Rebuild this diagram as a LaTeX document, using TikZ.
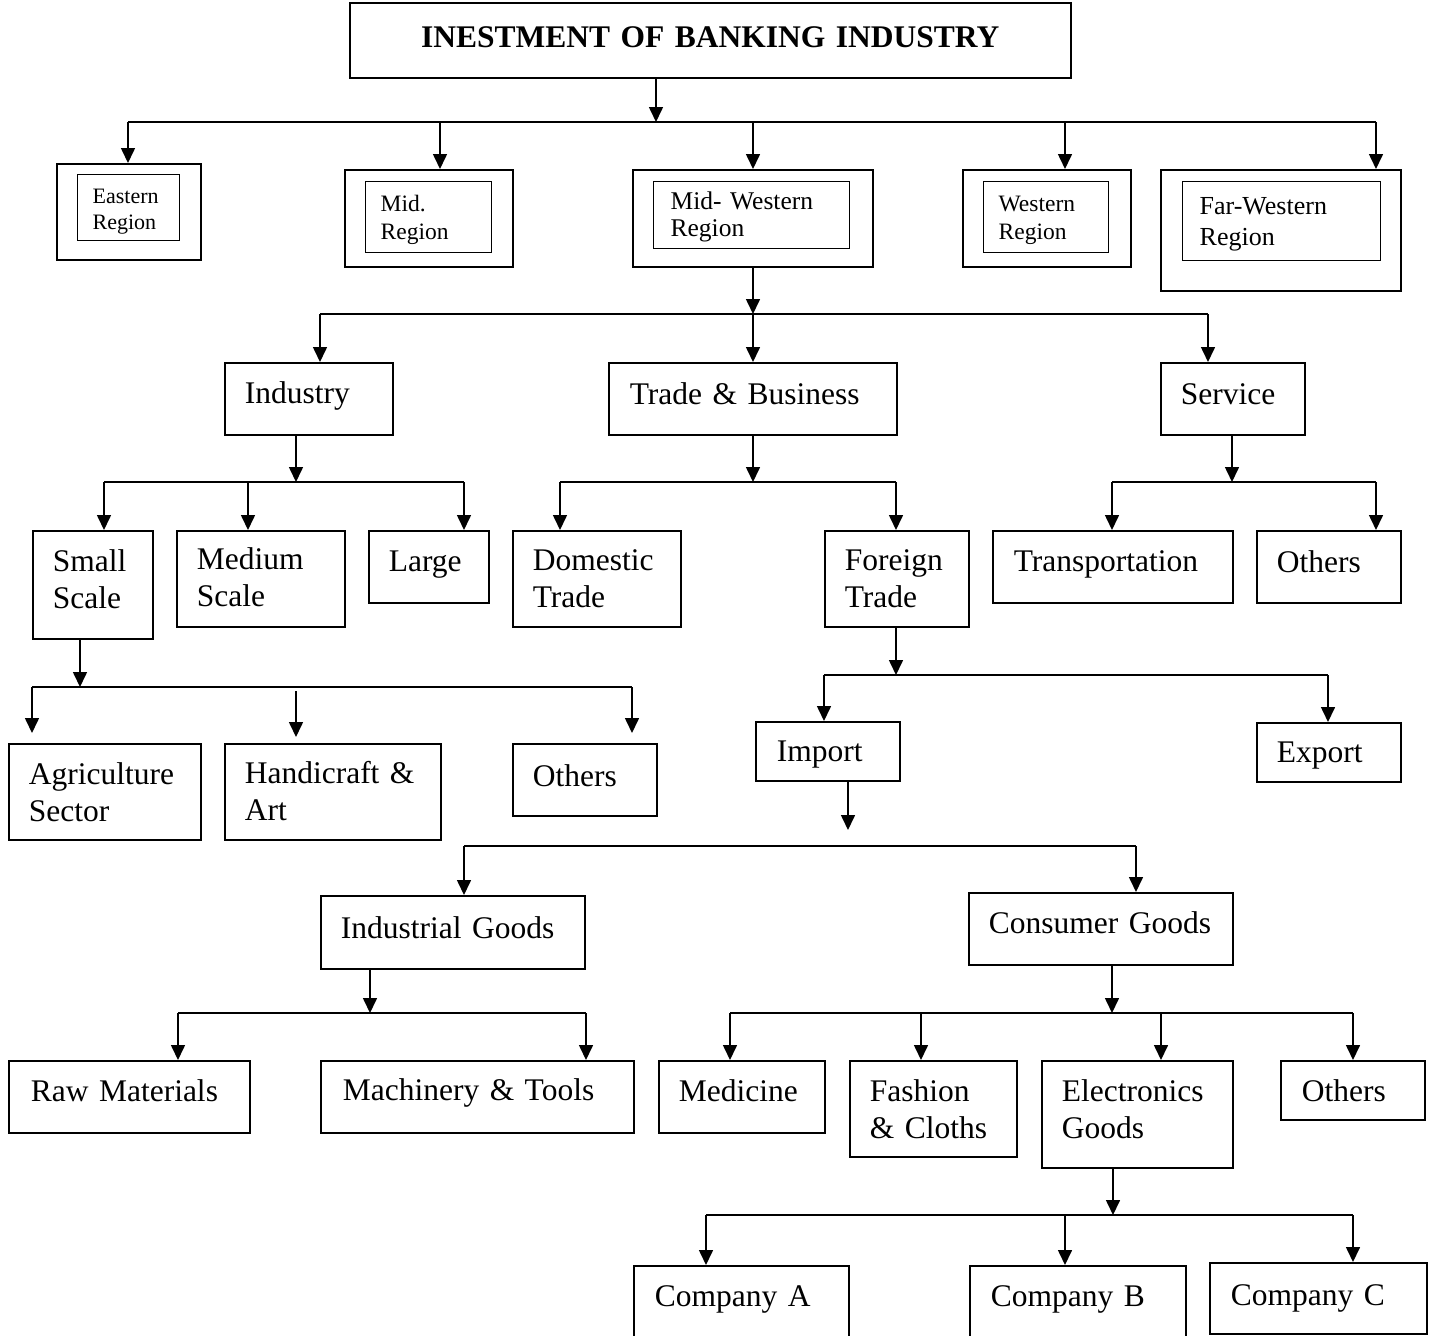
\documentclass[tikz,border=0pt]{standalone}
\usepackage{fontspec}
\setmainfont{Liberation Serif}
\usetikzlibrary{arrows.meta}
\newcommand\mkbox[8][]{%
  \pgfmathsetmacro\bw{#5-#3}\pgfmathsetmacro\bh{#6-#4}\pgfmathsetmacro\tw{#5-#3-2*#7}%
  \node[box,minimum width=\bw pt,minimum height=\bh pt,text width=\tw pt,inner xsep=#7 pt,#1] (#2) at (#3,#4) {#8};}
% raise the text inside a box by half the given amount
\newcommand\up[1]{\par\kern #1pt\relax}
\tikzset{
  box/.style={draw,line width=1.6pt,anchor=north west,inner ysep=0pt,align=left,
    font=\fontsize{31.5}{37}\selectfont},
  outerbox/.style={line width=2pt},
  innerbox/.style={line width=1.3pt},
  ln/.style={line width=1.6pt},
  arr/.style={line width=1.6pt,-{Triangle[length=15pt,width=14pt]}},
}
\begin{document}
\begin{tikzpicture}[x=1pt,y=-1pt]
\clip (0,0) rectangle (1433,1336);
\fill[white] (0,0) rectangle (1433,1336);

% title
\mkbox[align=center,font=\fontsize{31.5}{37}\selectfont\bfseries]{title}{349}{2}{1070}{77}{10}{INESTMENT OF BANKING INDUSTRY\up{6}}

% regions
\mkbox[outerbox]{eastO}{56}{163}{200}{259}{0}{}
\mkbox[innerbox,font=\fontsize{22}{26}\selectfont]{eastI}{77}{174}{179}{240}{15}{Eastern\\Region\up{-8}}
\mkbox[outerbox]{midO}{344}{169}{512}{266}{0}{}
\mkbox[innerbox,font=\fontsize{23.5}{28}\selectfont]{midI}{365}{181}{491}{252}{15}{Mid.\\Region\up{-6}}
\mkbox[outerbox]{mwO}{632}{169}{872}{266}{0}{}
\mkbox[innerbox,font=\fontsize{25.5}{27}\selectfont]{mwI}{653}{181}{849}{248}{17}{Mid- Western\\Region\up{-4}}
\mkbox[outerbox]{westO}{962}{169}{1130}{266}{0}{}
\mkbox[innerbox,font=\fontsize{23.5}{28}\selectfont]{westI}{983}{181}{1108}{252}{15}{Western\\Region\up{-6}}
\mkbox[outerbox]{fwO}{1160}{169}{1400}{290}{0}{}
\mkbox[innerbox,font=\fontsize{26}{31}\selectfont]{fwI}{1182}{181}{1380}{260}{17}{Far-Western\\Region\up{-6}}

% level 2
\mkbox{ind}{224}{362}{392}{434}{20}{Industry\up{6}}
\mkbox{trade}{608}{362}{896}{434}{21}{Trade \& Business\up{10}}
\mkbox{serv}{1160}{362}{1304}{434}{20}{Service\up{10}}

% level 3
\mkbox{small}{32}{530}{152}{638}{20}{Small\\Scale\up{12}}
\mkbox{medium}{176}{530}{344}{626}{20}{Medium\\Scale\up{4}}
\mkbox{large}{368}{530}{488}{602}{20}{Large\up{4}}
\mkbox{dom}{512}{530}{680}{626}{20}{Domestic\\Trade}
\mkbox{foreign}{824}{530}{968}{626}{20}{Foreign\\Trade}
\mkbox{transp}{992}{530}{1232}{602}{21}{Transportation\up{4}}
\mkbox{othS}{1256}{530}{1400}{602}{20}{Others\up{10}}

% level 4
\mkbox{agri}{8}{743}{200}{839}{20}{Agriculture\\Sector}
\mkbox{handi}{224}{743}{440}{839}{20}{Handicraft \&\\Art\up{2}}
\mkbox{othSm}{512}{743}{656}{815}{20}{Others\up{8}}
\mkbox{import}{755}{721}{899}{780}{21}{Import\up{-6}}
\mkbox{export}{1256}{722}{1400}{781}{20}{Export\up{-6}}

% level 5
\mkbox{indg}{320}{895}{584}{968}{20}{Industrial Goods\up{10}}
\mkbox{consg}{968}{892}{1232}{964}{20}{Consumer Goods\up{12}}

% level 6
\mkbox{raw}{8}{1060}{249}{1132}{22}{Raw Materials\up{12}}
\mkbox{mach}{320}{1060}{633}{1132}{22}{Machinery \& Tools\up{8}}
\mkbox{medi}{658}{1060}{824}{1132}{20}{Medicine\up{12}}
\mkbox{fash}{849}{1060}{1016}{1156}{20}{Fashion\\\& Cloths}
\mkbox{elec}{1041}{1060}{1232}{1167}{20}{Electronics\\Goods\up{10}}
\mkbox{othC}{1280}{1060}{1424}{1119}{21}{Others}

% level 7
\mkbox{compA}{633}{1265}{848}{1350}{21}{Company A\up{18}}
\mkbox{compB}{969}{1265}{1185}{1350}{21}{Company B\up{18}}
\mkbox{compC}{1209}{1262}{1426}{1333}{21}{Company C}

% ---- connectors ----
% title -> regions
\coordinate (t1) at (656,122);
\draw[arr] (title.south -| t1) -- (t1);
\coordinate (b1a) at (128,122); \coordinate (b1b) at (440,122);
\coordinate (b1c) at (753,122); \coordinate (b1d) at (1065,122);
\coordinate (b1e) at (1376,122);
\draw[ln] (b1a) -- (b1e);
\foreach \c/\n in {b1a/eastO,b1b/midO,b1c/mwO,b1d/westO,b1e/fwO}
  \draw[arr] (\c) -- (\c |- \n.north);

% mid-western -> sectors
\coordinate (m2) at (753,314);
\draw[arr] (mwO.south -| m2) -- (m2);
\coordinate (b2a) at (320,314); \coordinate (b2c) at (1208,314);
\draw[ln] (b2a) -- (b2c);
\foreach \c/\n in {b2a/ind,m2/trade,b2c/serv}
  \draw[arr] (\c) -- (\c |- \n.north);

% industry
\coordinate (m3a) at (296,482);
\draw[arr] (ind.south -| m3a) -- (m3a);
\coordinate (b3a) at (104,482); \coordinate (b3b) at (248,482); \coordinate (b3c) at (464,482);
\draw[ln] (b3a) -- (b3c);
\foreach \c/\n in {b3a/small,b3b/medium,b3c/large}
  \draw[arr] (\c) -- (\c |- \n.north);

% trade
\coordinate (m3b) at (753,482);
\draw[arr] (trade.south -| m3b) -- (m3b);
\coordinate (b3d) at (560,482); \coordinate (b3e) at (896,482);
\draw[ln] (b3d) -- (b3e);
\foreach \c/\n in {b3d/dom,b3e/foreign}
  \draw[arr] (\c) -- (\c |- \n.north);

% service
\coordinate (m3c) at (1232,482);
\draw[arr] (serv.south -| m3c) -- (m3c);
\coordinate (b3f) at (1112,482); \coordinate (b3g) at (1376,482);
\draw[ln] (b3f) -- (b3g);
\foreach \c/\n in {b3f/transp,b3g/othS}
  \draw[arr] (\c) -- (\c |- \n.north);

% small scale
\coordinate (m4a) at (80,687);
\draw[arr] (small.south -| m4a) -- (m4a);
\coordinate (b4a) at (32,687); \coordinate (b4b) at (296,687); \coordinate (b4c) at (632,687);
\draw[ln] (b4a) -- (b4c);
\draw[arr,shorten >=10pt] (b4a) -- (b4a |- agri.north);
\draw[arr,shorten <=4pt,shorten >=6pt] (b4b) -- (b4b |- handi.north);
\draw[arr,shorten >=10pt] (b4c) -- (b4c |- othSm.north);

% foreign trade
\coordinate (m4b) at (896,675);
\draw[arr] (foreign.south -| m4b) -- (m4b);
\coordinate (b4d) at (824,675); \coordinate (b4e) at (1328,675);
\draw[ln] (b4d) -- (b4e);
\foreach \c/\n in {b4d/import,b4e/export}
  \draw[arr] (\c) -- (\c |- \n.north);

% import
\coordinate (m5) at (848,830);
\draw[arr] (import.south -| m5) -- (m5);
\coordinate (b5a) at (464,846); \coordinate (b5b) at (1136,846);
\draw[ln] (b5a) -- (b5b);
\foreach \c/\n in {b5a/indg,b5b/consg}
  \draw[arr] (\c) -- (\c |- \n.north);

% industrial goods
\coordinate (m6a) at (370,1013);
\draw[arr] (indg.south -| m6a) -- (m6a);
\coordinate (b6a) at (178,1013); \coordinate (b6b) at (586,1013);
\draw[ln] (b6a) -- (b6b);
\foreach \c/\n in {b6a/raw,b6b/mach}
  \draw[arr] (\c) -- (\c |- \n.north);

% consumer goods
\coordinate (m6b) at (1112,1013);
\draw[arr] (consg.south -| m6b) -- (m6b);
\coordinate (b6c) at (730,1013); \coordinate (b6d) at (921,1013);
\coordinate (b6e) at (1161,1013); \coordinate (b6f) at (1353,1013);
\draw[ln] (b6c) -- (b6f);
\foreach \c/\n in {b6c/medi,b6d/fash,b6e/elec,b6f/othC}
  \draw[arr] (\c) -- (\c |- \n.north);

% electronics
\coordinate (m7) at (1113,1215);
\draw[arr] (elec.south -| m7) -- (m7);
\coordinate (b7a) at (706,1215); \coordinate (b7b) at (1065,1215); \coordinate (b7c) at (1353,1215);
\draw[ln] (b7a) -- (b7c);
\foreach \c/\n in {b7a/compA,b7b/compB,b7c/compC}
  \draw[arr] (\c) -- (\c |- \n.north);
\end{tikzpicture}
\end{document}
